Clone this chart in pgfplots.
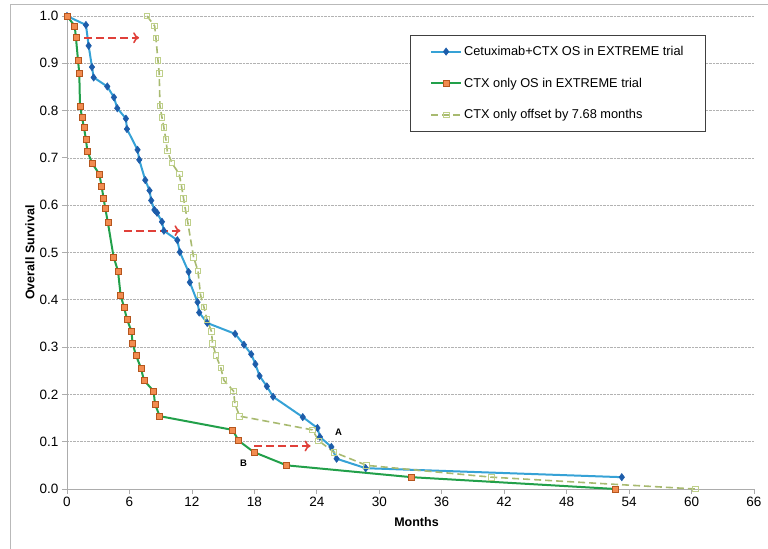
\documentclass[border=0pt]{standalone}
\usepackage{fontspec}
\setmainfont{Liberation Sans}
\usepackage{pgfplots}
\pgfplotsset{compat=1.18}
\usetikzlibrary{arrows.meta}

\definecolor{cetuxline}{HTML}{36A2D6}
\definecolor{cetuxmark}{HTML}{1D5DAA}
\definecolor{ctxline}{HTML}{22A04A}
\definecolor{ctxfill}{HTML}{F28C50}
\definecolor{ctxedge}{HTML}{B5561E}
\definecolor{offline}{HTML}{A8BA70}
\definecolor{offmark}{HTML}{BFD08A}
\definecolor{arrowred}{HTML}{E0403A}

\begin{document}
\begin{tikzpicture}
  \useasboundingbox (0,0) rectangle (768bp,549bp);
  \draw[gray!55, line width=0.8bp] (10bp,0) -- (10bp,545bp) -- (768bp,545bp);

  \begin{axis}[
      at={(67bp,60bp)}, anchor=south west,
      width=687bp, height=473bp, scale only axis,
      xmin=0, xmax=66, ymin=0, ymax=1,
      xtick={0,6,...,66},
      ytick={0,0.1,0.2,0.3,0.4,0.5,0.6,0.7,0.8,0.9,1.0},
      yticklabel style={/pgf/number format/.cd,fixed,fixed zerofill,precision=1},
      /pgf/number format/assume math mode=true,
      tick label style={font=\fontsize{13.5bp}{15bp}\selectfont},
      axis lines=left,
      axis line style={-, gray!65, line width=0.8bp},
      tick align=outside,
      major tick length=5bp,
      tick style={gray!65, line width=0.8bp},
      ymajorgrids=true,
      grid style={densely dotted, gray!60, line width=0.7bp},
      clip=false,
      xlabel={\bfseries Months},
      ylabel={\bfseries Overall Survival},
      label style={font=\fontsize{12.5bp}{14bp}\selectfont},
      x label style={at={(axis description cs:0.5,0)}, anchor=center, yshift=-33bp, xshift=6bp},
      y label style={at={(axis description cs:-0.054,0.5)}, anchor=center},
      legend style={at={(0.499,0.960)}, anchor=north west,
        draw=black!75, line width=0.6bp,
        font=\fontsize{12.8bp}{15bp}\selectfont,
        inner xsep=20bp, inner ysep=9bp, row sep=17bp},
      legend cell align=left,
      legend image code/.code={%
        \draw[mark repeat=2,mark phase=2,#1] plot coordinates {(0bp,0bp) (15bp,0bp) (30bp,0bp)};},
    ]

    \addplot[cetuxline, line width=2bp, mark=diamond*, mark size=3.6bp,
      mark options={solid, fill=cetuxmark, draw=cetuxmark, line width=0.6bp}] coordinates {
      (0,1.0) (1.82,0.981) (2.08,0.937) (2.4,0.892) (2.56,0.870) (3.87,0.851)
      (4.51,0.828) (4.83,0.805) (5.66,0.783) (5.76,0.761) (6.78,0.717) (6.94,0.696)
      (7.52,0.653) (7.93,0.631) (8.09,0.610) (8.40,0.590) (8.65,0.584) (9.12,0.565)
      (9.31,0.546) (10.6,0.526) (10.84,0.501) (11.68,0.459) (11.8,0.437) (12.54,0.395)
      (12.7,0.373) (13.47,0.351) (16.15,0.328) (17.0,0.305) (17.7,0.285) (18.1,0.264)
      (18.5,0.239) (19.2,0.217) (19.8,0.195) (22.65,0.152) (24.06,0.129) (24.3,0.110)
      (25.4,0.089) (25.9,0.064) (28.7,0.044) (53.3,0.025)
    };
    \addlegendentry{Cetuximab+CTX OS in EXTREME trial\hspace{6bp}}

    \addplot[ctxline, line width=2bp, mark=square*, mark size=3bp,
      mark options={solid, fill=ctxfill, draw=ctxedge, line width=0.6bp}] coordinates {
      (0,1.0) (0.74,0.979) (0.86,0.954) (1.06,0.906) (1.18,0.879) (1.25,0.810)
      (1.44,0.786) (1.63,0.764) (1.82,0.739) (1.95,0.715) (2.4,0.689) (3.1,0.666)
      (3.33,0.639) (3.52,0.614) (3.68,0.593) (3.93,0.563) (4.48,0.490) (4.9,0.461)
      (5.15,0.410) (5.47,0.385) (5.76,0.359) (6.2,0.333) (6.3,0.308) (6.62,0.283)
      (7.1,0.256) (7.39,0.230) (8.32,0.207) (8.45,0.180) (8.9,0.154) (15.9,0.125)
      (16.5,0.102) (17.95,0.078) (21.1,0.050) (33.1,0.025) (52.7,0.0)
    };
    \addlegendentry{CTX only OS in EXTREME trial}

    \addplot[offline, line width=1.6bp, dash pattern=on 7bp off 4bp, mark=square, mark size=2.8bp,
      mark options={solid, draw=offmark, fill=white, line width=0.8bp}] coordinates {
      (7.68,1.0) (8.42,0.979) (8.54,0.954) (8.74,0.906) (8.86,0.879) (8.93,0.810)
      (9.12,0.786) (9.31,0.764) (9.50,0.739) (9.63,0.715) (10.08,0.689) (10.78,0.666)
      (11.01,0.639) (11.20,0.614) (11.36,0.593) (11.61,0.563) (12.16,0.490) (12.58,0.461)
      (12.83,0.410) (13.15,0.385) (13.44,0.359) (13.88,0.333) (13.98,0.308) (14.30,0.283)
      (14.78,0.256) (15.07,0.230) (16.00,0.207) (16.13,0.180) (16.58,0.154) (23.58,0.125)
      (24.18,0.102) (25.63,0.078) (28.78,0.050) (40.78,0.025) (60.38,0.0)
    };
    \addlegendentry{CTX only offset by 7.68 months}

    % shift arrows
    \draw[arrowred, line width=1.6bp, dash pattern=on 8bp off 4bp, -{To[length=6bp,width=11bp]}]
      (axis cs:1.65,0.954) -- (axis cs:6.93,0.954);
    \draw[arrowred, line width=1.6bp, dash pattern=on 8bp off 4bp, -{To[length=6bp,width=11bp]}]
      (axis cs:5.47,0.546) -- (axis cs:10.9,0.546);
    \draw[arrowred, line width=1.6bp, dash pattern=on 8bp off 4bp, -{To[length=6bp,width=11bp]}]
      (axis cs:18.0,0.091) -- (axis cs:23.4,0.091);

    \node[font=\bfseries\fontsize{9.5bp}{10bp}\selectfont] at (axis cs:26.1,0.12) {A};
    \node[font=\bfseries\fontsize{9.5bp}{10bp}\selectfont] at (axis cs:16.95,0.055) {B};
  \end{axis}
\end{tikzpicture}
\end{document}
